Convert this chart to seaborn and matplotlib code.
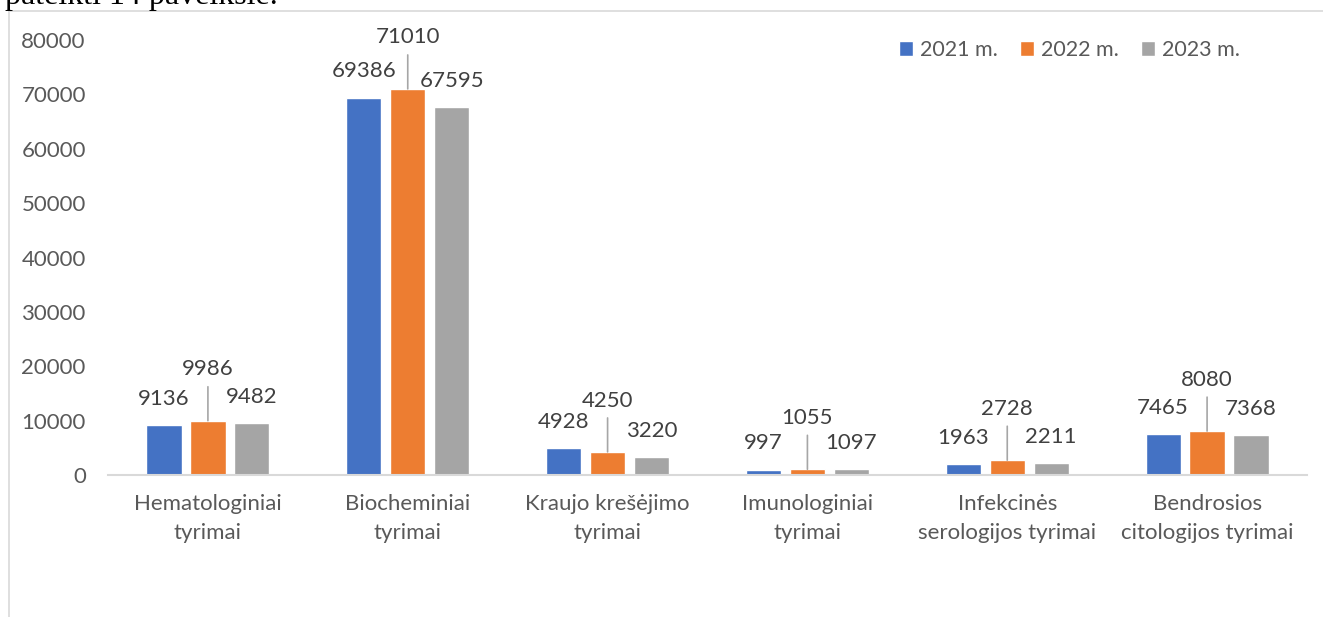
import pandas as pd
import matplotlib.pyplot as plt
import seaborn as sns
from matplotlib.lines import Line2D

# Duomenys
kategorijos = ['Hematologiniai\ntyrimai', 'Biocheminiai\ntyrimai', 'Kraujo krešėjimo\ntyrimai',
               'Imunologiniai\ntyrimai', 'Infekcinės\nserologijos tyrimai', 'Bendrosios\ncitologijos tyrimai']
metai = ['2021 m.', '2022 m.', '2023 m.']
v2021 = [9136, 69386, 4928, 997, 1963, 7465]
v2022 = [9986, 71010, 4250, 1055, 2728, 8080]
v2023 = [9482, 67595, 3220, 1097, 2211, 7368]
spalvos = ['#4472C4', '#ED7D31', '#A5A5A5']

df = pd.DataFrame({
    'kategorija': kategorijos * 3,
    'metai': [m for m in metai for _ in kategorijos],
    'kiekis': v2021 + v2022 + v2023,
})

sns.set_style('white')
plt.rcParams['font.family'] = ['Lato', 'DejaVu Sans']
FS = 16

fig = plt.figure(figsize=(13.23, 6.17), dpi=100)
W, H = 1323, 617
ax = fig.add_axes([108 / W, 142 / H, 1199 / W, 435 / H])

sns.barplot(data=df, x='kategorija', y='kiekis', hue='metai', palette=spalvos,
            width=0.66, gap=0.2, ax=ax, saturation=1)

ax.set_ylim(0, 80000)
ax.set_xlim(-0.5, 5.5)
ax.set_yticks(range(0, 80001, 10000))
ax.set_xlabel('')
ax.set_ylabel('')
for s in ['top', 'right', 'left']:
    ax.spines[s].set_visible(False)
ax.spines['bottom'].set_color('#D9D9D9')
ax.spines['bottom'].set_linewidth(1.5)
ax.tick_params(axis='both', length=0, labelsize=FS, labelcolor='#595959')
ax.tick_params(axis='y', pad=16)
ax.tick_params(axis='x', pad=14)
for t in ax.get_xticklabels():
    t.set_linespacing(1.55)

# Reikšmių etiketės
for i, cont in enumerate(ax.containers):
    for bar in cont:
        x = bar.get_x() + bar.get_width() / 2
        y = bar.get_height()
        if i == 1:
            ax.annotate(f'{int(y)}', xy=(x, y), xytext=(0, 37), textcoords='offset points',
                        ha='center', va='center', fontsize=FS, color='#404040',
                        arrowprops=dict(arrowstyle='-', color='#A6A6A6', lw=1.2,
                                        shrinkA=3, shrinkB=0))
        else:
            ax.annotate(f'{int(y)}', xy=(x, y), xytext=(0, 19), textcoords='offset points',
                        ha='center', va='center', fontsize=FS, color='#404040')

handles, labels = ax.get_legend_handles_labels()
ax.legend(handles, labels, ncol=3, frameon=False, loc='center left',
          bbox_to_anchor=(880 / W, 1 - 50 / H), bbox_transform=fig.transFigure,
          fontsize=15.5, labelcolor='#595959', handlelength=0.65, handleheight=0.65,
          handletextpad=0.3, columnspacing=1.05)

# Diagramos rėmelis
fig.add_artist(Line2D([8.5 / W, 8.5 / W], [0, 1 - 10.5 / H], color='#D9D9D9', lw=1.2,
                      transform=fig.transFigure))
fig.add_artist(Line2D([8.5 / W, 1], [1 - 10.5 / H, 1 - 10.5 / H], color='#D9D9D9', lw=1.2,
                      transform=fig.transFigure))

# Nukirptas dokumento tekstas viršuje
fig.text(5 / W, 1 - 4 / H, 'pateikti 14 paveikslė.', fontsize=23, va='baseline',
         family=['Liberation Serif'], color='black')

fig.savefig('out.png', dpi=100)
